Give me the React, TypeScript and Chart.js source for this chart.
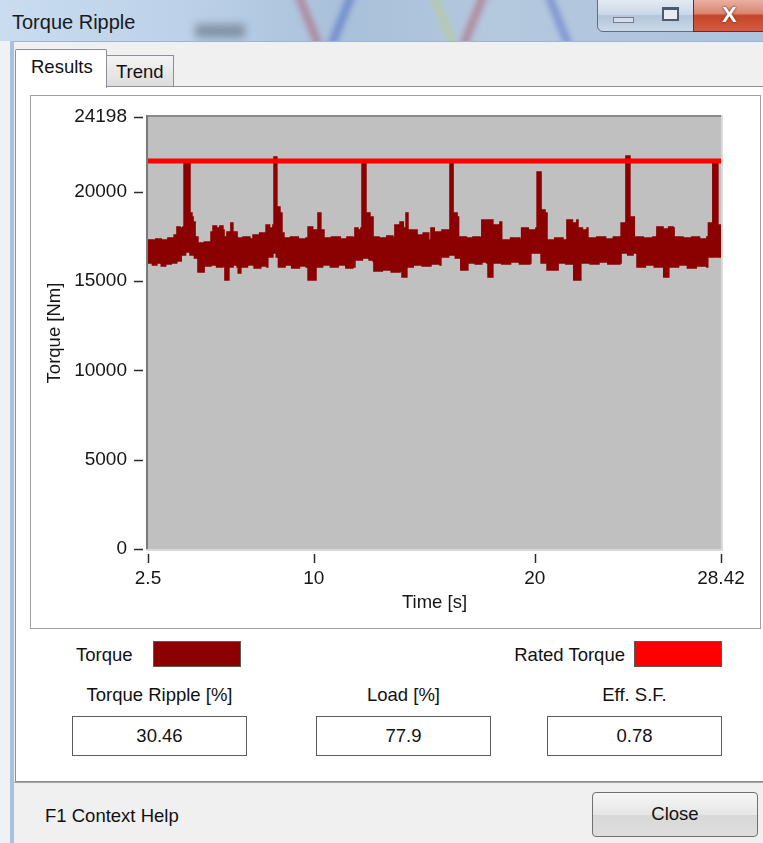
import React, { useEffect, useRef } from "react";
import { Chart, registerables } from "chart.js";

Chart.register(...registerables);

// ---------------- data ----------------
const timeTicks = [2.5, 10, 20, 28.42];
const torqueTicks = [0, 5000, 10000, 15000, 20000, 24198];
const timeRange = [2.5, 28.42];
const torqueRange = [0, 24198];

const ratedTorque: [number, number][] = [
  [2.5, 21730],
  [28.42, 21730],
];

// upper envelope of the measured torque trace [s, Nm]
const torqueUpper: [number, number][] = [
  [2.5, 17310], [2.85, 17370], [3.1, 17310], [3.4, 17420], [3.63, 17310], [3.68, 17590], [3.81, 18040],
  [3.95, 17980], [4.08, 18040], [4.13, 21620], [4.35, 21620], [4.4, 18820], [4.49, 18600], [4.54, 18320],
  [4.63, 17480], [4.76, 17140], [5.05, 17200], [5.3, 17140], [5.35, 17760], [5.44, 18090], [5.6, 17980],
  [5.75, 18090], [5.89, 17870], [5.94, 17480], [6.07, 17760], [6.25, 18260], [6.34, 17760], [6.53, 17420],
  [6.8, 17480], [7.11, 17370], [7.25, 17590], [7.55, 17700], [7.84, 18150], [8.0, 17980], [8.15, 18150],
  [8.2, 21960], [8.29, 21960], [8.33, 19160], [8.47, 18820], [8.56, 17700], [8.65, 17420], [8.95, 17480],
  [9.3, 17370], [9.65, 17420], [9.74, 18040], [9.95, 17870], [10.19, 18820], [10.32, 17870], [10.46, 17420],
  [10.8, 17480], [11.2, 17370], [11.5, 17480], [11.77, 17420], [11.86, 17980], [12.0, 17870], [12.13, 17980],
  [12.18, 21620], [12.31, 21620], [12.36, 18820], [12.54, 18600], [12.68, 17480], [12.95, 17420], [13.3, 17530],
  [13.58, 17420], [13.67, 18150], [13.9, 18320], [14.05, 17980], [14.17, 18820], [14.26, 17870], [14.67, 17590],
  [14.95, 17700], [15.2, 17310], [15.3, 17980], [15.45, 17760], [15.8, 17870], [16.1, 17760], [16.16, 21620],
  [16.25, 21620], [16.3, 18820], [16.48, 18600], [16.55, 17480], [16.9, 17420], [17.2, 17480], [17.52, 17420],
  [17.6, 18430], [17.83, 18320], [17.9, 18430], [18.1, 18150], [18.42, 18320], [18.5, 17310], [18.9, 17420],
  [19.32, 17310], [19.4, 17980], [19.7, 17870], [20.05, 17980], [20.1, 21120], [20.23, 21120], [20.28, 18990],
  [20.46, 18820], [20.55, 17310], [20.9, 17420], [21.27, 17310], [21.45, 18430], [21.7, 18260], [21.9, 18430],
  [21.95, 17980], [22.15, 17870], [22.36, 17980], [22.4, 17420], [22.8, 17480], [23.2, 17370], [23.55, 17480],
  [23.85, 17420], [23.9, 18260], [24.07, 18150], [24.12, 22010], [24.26, 22010], [24.3, 18600], [24.44, 18600],
  [24.5, 17480], [24.9, 17420], [25.34, 17480], [25.52, 18040], [25.8, 17930], [26.05, 18040], [26.25, 17980],
  [26.3, 17480], [26.7, 17420], [27.1, 17480], [27.45, 17370], [27.78, 17480], [27.85, 18260], [28.0, 18150],
  [28.05, 21620], [28.24, 21620], [28.28, 18150], [28.42, 17640],
];

// lower envelope of the measured torque trace [s, Nm]
const torqueLower: [number, number][] = [
  [2.5, 16020], [2.7, 15910], [2.9, 16020], [3.1, 15850], [3.3, 15960], [3.55, 16020], [3.8, 16130],
  [4.0, 16470], [4.2, 16640], [4.4, 16470], [4.6, 16300], [4.72, 16300], [4.76, 15520], [4.99, 15520],
  [5.04, 15850], [5.35, 15910], [5.6, 15800], [5.89, 15850], [5.98, 15070], [6.12, 15070], [6.16, 15800],
  [6.35, 15910], [6.53, 15800], [6.58, 15460], [6.66, 15460], [6.7, 15800], [7.0, 15910], [7.3, 15740],
  [7.6, 15850], [7.88, 15800], [7.92, 16360], [8.15, 16580], [8.3, 16360], [8.4, 15800], [8.7, 15910],
  [9.0, 15740], [9.35, 15850], [9.65, 15800], [9.74, 15070], [10.05, 15070], [10.1, 15800], [10.4, 15910],
  [10.75, 15800], [11.1, 15910], [11.45, 15740], [11.77, 15800], [11.86, 16190], [12.2, 16300], [12.5, 16190],
  [12.68, 16130], [12.72, 15570], [13.1, 15630], [13.5, 15520], [13.9, 15570], [13.99, 15240], [14.12, 15240],
  [14.21, 15800], [14.5, 15910], [14.9, 15850], [15.3, 15960], [15.71, 15910], [15.75, 16360], [16.1, 16470],
  [16.4, 16300], [16.61, 16360], [16.65, 15630], [16.93, 15630], [16.97, 16020], [17.3, 15960], [17.6, 16080],
  [17.83, 16020], [17.88, 15240], [18.06, 15240], [18.1, 16020], [18.5, 15960], [18.9, 16080], [19.3, 15960],
  [19.78, 16020], [19.82, 16580], [20.23, 16580], [20.28, 16020], [20.55, 15630], [21.0, 15630], [21.05, 16020],
  [21.4, 15960], [21.72, 16020], [21.76, 15070], [22.04, 15070], [22.08, 16020], [22.5, 15960], [22.9, 16080],
  [23.3, 15960], [23.85, 16020], [23.9, 16580], [24.2, 16470], [24.44, 16580], [24.62, 15800], [25.0, 15910],
  [25.4, 15800], [25.79, 15800], [25.83, 15240], [26.02, 15240], [26.06, 15800], [26.5, 15910], [26.9, 15740],
  [27.3, 15850], [27.78, 15800], [27.82, 16360], [28.42, 16360],
];

const resultLabels = ["Torque Ripple [%]", "Load [%]", "Eff. S.F."];
const resultValues = ["30.46", "77.9", "0.78"];

// ---------------- styling ----------------
const FONT = "'Liberation Sans', Arial, sans-serif";
const TORQUE_COLOR = "#8b0000";
const RATED_COLOR = "#ff0000";

const framePlugin = {
  id: "plotFrame",
  beforeDatasetsDraw(chart: any) {
    const { ctx, chartArea: a } = chart;
    ctx.save();
    ctx.fillStyle = "#c0c0c0";
    ctx.fillRect(a.left, a.top, a.right - a.left, a.bottom - a.top);
    ctx.restore();
  },
  afterDraw(chart: any) {
    const { ctx, chartArea: a } = chart;
    const w = a.right - a.left;
    const h = a.bottom - a.top;
    ctx.save();
    // sunken frame
    ctx.fillStyle = "#8a8a8a";
    ctx.fillRect(a.left - 2, a.top - 2, w + 2, 2);
    ctx.fillStyle = "#7a7a7a";
    ctx.fillRect(a.left - 2, a.top - 2, 2, h + 2);
    ctx.fillStyle = "#dadada";
    ctx.fillRect(a.right, a.top - 2, 2, h + 4);
    ctx.fillRect(a.left - 2, a.bottom, w + 4, 2);
    // tick marks
    ctx.strokeStyle = "#2a2a2a";
    ctx.lineWidth = 1.5;
    const ys = chart.scales.y;
    ys.ticks.forEach((t: any) => {
      const py = Math.round(ys.getPixelForValue(t.value)) + 0.5;
      ctx.beginPath();
      ctx.moveTo(a.left - 14, py);
      ctx.lineTo(a.left - 5, py);
      ctx.stroke();
    });
    const xs = chart.scales.x;
    xs.ticks.forEach((t: any) => {
      const px = Math.round(xs.getPixelForValue(t.value)) + 0.5;
      ctx.beginPath();
      ctx.moveTo(px, a.bottom + 5);
      ctx.lineTo(px, a.bottom + 14);
      ctx.stroke();
    });
    ctx.restore();
  },
};

function TorqueChart() {
  const ref = useRef<HTMLCanvasElement | null>(null);
  useEffect(() => {
    if (!ref.current) return;
    const chart = new Chart(ref.current, {
      type: "line",
      data: {
        datasets: [
          {
            label: "Rated Torque",
            data: ratedTorque as any,
            borderColor: RATED_COLOR,
            borderWidth: 5,
            pointRadius: 0,
            fill: false,
          },
          {
            label: "Torque",
            data: torqueUpper as any,
            borderColor: TORQUE_COLOR,
            backgroundColor: TORQUE_COLOR,
            borderWidth: 1.5,
            pointRadius: 0,
            stepped: true,
            fill: "+1",
          },
          {
            label: "Torque (min)",
            data: torqueLower as any,
            borderColor: TORQUE_COLOR,
            backgroundColor: TORQUE_COLOR,
            borderWidth: 1.5,
            pointRadius: 0,
            stepped: true,
            fill: false,
          },
        ],
      },
      options: {
        animation: false,
        responsive: false,
        maintainAspectRatio: false,
        devicePixelRatio: 1,
        layout: { padding: { top: 21, right: 39, left: 0, bottom: 0 } },
        elements: { line: { tension: 0 }, point: { radius: 0 } },
        plugins: {
          legend: { display: false },
          tooltip: { enabled: false },
          title: { display: false },
        },
        scales: {
          x: {
            type: "linear",
            min: timeRange[0],
            max: timeRange[1],
            afterBuildTicks: (s: any) => {
              s.ticks = timeTicks.map((v) => ({ value: v }));
            },
            afterFit: (s: any) => {
              s.height = 79;
              s.paddingLeft = 0;
              s.paddingRight = 0;
            },
            grid: { display: false, drawTicks: false },
            border: { display: false },
            ticks: {
              autoSkip: false,
              maxRotation: 0,
              padding: 18,
              color: "#161616",
              font: { family: FONT, size: 19 },
              callback: (v: any) => String(v),
            },
            title: {
              display: true,
              text: "Time [s]",
              color: "#161616",
              font: { family: FONT, size: 18.5 },
              padding: { top: 0, bottom: 14 },
            },
          },
          y: {
            type: "linear",
            min: torqueRange[0],
            max: torqueRange[1],
            afterBuildTicks: (s: any) => {
              s.ticks = torqueTicks.map((v) => ({ value: v }));
            },
            afterFit: (s: any) => {
              s.width = 117;
              s.paddingTop = 0;
              s.paddingBottom = 0;
            },
            grid: { display: false, drawTicks: false },
            border: { display: false },
            ticks: {
              autoSkip: false,
              padding: 21,
              color: "#161616",
              font: { family: FONT, size: 19 },
              callback: (v: any) => String(v),
            },
            title: {
              display: true,
              text: "Torque [Nm]",
              color: "#161616",
              font: { family: FONT, size: 18.5 },
              padding: { top: 13, bottom: 0 },
            },
          },
        },
      } as any,
      plugins: [framePlugin],
    });
    return () => chart.destroy();
  }, []);
  return <canvas ref={ref} width={729} height={532} style={{ display: "block", width: 729, height: 532 }} />;
}

const abs = (l: number, t: number, w: number, h: number, extra: React.CSSProperties = {}): React.CSSProperties => ({
  position: "absolute",
  left: l,
  top: t,
  width: w,
  height: h,
  boxSizing: "border-box",
  ...extra,
});

function Stroke({ l, color, rot }: { l: number; color: string; rot: number }) {
  return (
    <div
      style={abs(l, -8, 7, 56, {
        background: color,
        transform: `rotate(${rot}deg)`,
        filter: "blur(3px)",
        opacity: 0.55,
      })}
    />
  );
}

export default function App() {
  const text: React.CSSProperties = { fontFamily: FONT, fontSize: 18.5, color: "#111", whiteSpace: "nowrap" };
  const boxLefts = [72, 316, 547];
  const boxWidth = 175;
  return (
    <div style={abs(0, 0, 763, 843, { overflow: "hidden", background: "#f0f0f0" })}>
      {/* title bar */}
      <div
        style={abs(0, 0, 763, 41, {
          background: "linear-gradient(to right, #c9dcf0 0%, #bcd1e8 25%, #a9c0da 45%, #b4c8de 65%, #aec4dc 100%)",
          overflow: "hidden",
        })}
      >
        <div style={abs(195, 24, 50, 14, { background: "#5d6b7c", filter: "blur(4px)", opacity: 0.6 })} />
        <Stroke l={305} color="#b04a5a" rot={-22} />
        <Stroke l={338} color="#3a55c0" rot={22} />
        <Stroke l={440} color="#b8d078" rot={-22} />
        <Stroke l={470} color="#b04a5a" rot={22} />
        <Stroke l={555} color="#4a62c4" rot={-22} />
        <div style={abs(12, 8, 200, 28, { ...text, fontSize: 20, lineHeight: "28px", color: "#1a1a1a" })}>Torque Ripple</div>
      </div>
      {/* window buttons */}
      <div
        style={abs(597, -2, 52, 34, {
          background: "linear-gradient(#e4ecf5, #cbd8e7 48%, #b3c5d9 52%, #cad9e9)",
          border: "1px solid #5f6f82",
          borderBottomLeftRadius: 6,
        })}
      >
        <div style={abs(15, 18, 21, 6, { background: "#d4dde8", border: "1px solid #6f7e90" })} />
      </div>
      <div
        style={abs(648, -2, 46, 34, {
          background: "linear-gradient(#e4ecf5, #cbd8e7 48%, #b3c5d9 52%, #cad9e9)",
          border: "1px solid #5f6f82",
          borderLeft: "none",
        })}
      >
        <div style={abs(14, 8, 17, 14, { border: "2px solid #4c5a6b", borderTopWidth: 3, background: "#e6edf5" })} />
      </div>
      <div
        style={abs(693, -2, 80, 34, {
          background: "linear-gradient(#eab3a5, #db8570 45%, #c4462b 52%, #d45b3f)",
          border: "1px solid #6b2b1e",
        })}
      >
        <div
          style={abs(28, 2, 30, 28, {
            fontFamily: FONT,
            fontWeight: "bold",
            fontSize: 22,
            lineHeight: "28px",
            color: "#ffffff",
            textShadow: "0 0 2px #5a2418, 0 0 1px #5a2418",
          })}
        >
          X
        </div>
      </div>
      {/* window body */}
      <div style={abs(0, 41, 763, 802, { background: "#f0f0f0", borderTop: "1px solid #9fb4cc" })} />
      {/* left frame */}
      <div style={abs(0, 41, 10, 802, { background: "#eef2f7" })} />
      <div style={abs(10, 41, 4, 802, { background: "#a9c1dc" })} />
      {/* tabs */}
      <div style={abs(106, 55, 68, 32, { background: "linear-gradient(#f4f4f4, #dcdcdc)", border: "1px solid #8c8f96", borderBottom: "none" })}>
        <div style={{ ...text, position: "absolute", left: 9, top: 3, lineHeight: "26px" }}>Trend</div>
      </div>
      {/* tab page */}
      <div style={abs(15, 86, 760, 696, { background: "#ffffff", border: "1px solid #8c8f96" })} />
      <div
        style={abs(15, 49, 92, 39, {
          background: "#ffffff",
          border: "1px solid #8c8f96",
          borderBottom: "none",
          borderTopLeftRadius: 2,
          borderTopRightRadius: 2,
        })}
      >
        <div style={{ ...text, position: "absolute", left: 15, top: 4, lineHeight: "26px" }}>Results</div>
      </div>
      {/* chart frame */}
      <div style={abs(30, 95, 731, 534, { background: "#ffffff", border: "1px solid #a0a0a0" })}>
        <TorqueChart />
      </div>
      {/* legend */}
      <div style={abs(76, 642, 70, 26, { ...text, lineHeight: "26px" })}>Torque</div>
      <div style={abs(153, 641, 88, 26, { background: TORQUE_COLOR, border: "1px solid #5a5a5a" })} />
      <div style={abs(470, 642, 155, 26, { ...text, lineHeight: "26px", textAlign: "right" })}>Rated Torque</div>
      <div style={abs(634, 641, 88, 26, { background: RATED_COLOR, border: "1px solid #5a5a5a" })} />
      {/* result fields */}
      {resultLabels.map((lab, i) => (
        <div key={lab}>
          <div style={abs(boxLefts[i] - 40, 682, boxWidth + 80, 26, { ...text, lineHeight: "26px", textAlign: "center" })}>{lab}</div>
          <div
            style={abs(boxLefts[i], 716, boxWidth, 40, {
              ...text,
              background: "#ffffff",
              border: "1px solid #5c5c5c",
              lineHeight: "37px",
              textAlign: "center",
            })}
          >
            {resultValues[i]}
          </div>
        </div>
      ))}
      {/* footer */}
      <div style={abs(14, 782, 760, 61, { background: "#f0f0f0", borderTop: "1px solid #a6a6a6" })} />
      <div style={abs(45, 803, 200, 26, { ...text, lineHeight: "26px" })}>F1 Context Help</div>
      <div
        style={abs(592, 792, 166, 45, {
          ...text,
          background: "linear-gradient(#f6f6f6, #e6e6e6 50%, #d8d8d8 51%, #dedede)",
          border: "1px solid #707070",
          borderRadius: 4,
          textAlign: "center",
          lineHeight: "42px",
        })}
      >
        Close
      </div>
    </div>
  );
}
